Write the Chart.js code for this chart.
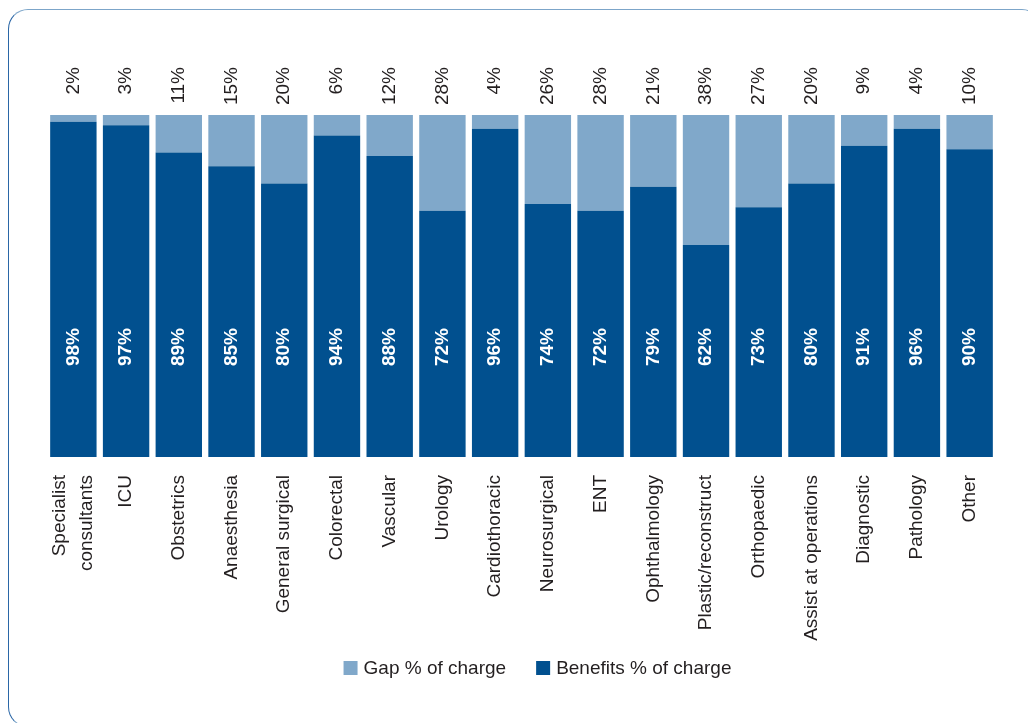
<!DOCTYPE html>
<html>
<head>
<meta charset="utf-8">
<title>Benefits and gap % of charge</title>
<script src="https://cdn.jsdelivr.net/npm/chart.js@4.4.0/dist/chart.umd.min.js"></script>
<style>
  html, body { margin: 0; padding: 0; background: #fff; overflow: hidden; }
  .frame {
    position: absolute; left: 8px; top: 9px; width: 1034px; height: 718px;
    border: 1.5px solid #7ca5c9; border-left-color: #2a66a6;
    border-radius: 20px; box-sizing: border-box;
  }
  .wrap { position: absolute; left: 0; top: 0; width: 1028px; height: 723px; }
</style>
</head>
<body>
<div class="frame"></div>
<div class="wrap"><canvas id="gapChart" width="1028" height="723"></canvas></div>
<script>
const categories = [
  ['Specialist', 'consultants'], 'ICU', 'Obstetrics', 'Anaesthesia', 'General surgical',
  'Colorectal', 'Vascular', 'Urology', 'Cardiothoracic', 'Neurosurgical', 'ENT',
  'Ophthalmology', 'Plastic/reconstruct', 'Orthopaedic', 'Assist at operations',
  'Diagnostic', 'Pathology', 'Other'
];
const benefits = [98, 97, 89, 85, 80, 94, 88, 72, 96, 74, 72, 79, 62, 73, 80, 91, 96, 90];
const gap = [2, 3, 11, 15, 20, 6, 12, 28, 4, 26, 28, 21, 38, 27, 20, 9, 4, 10];

const DARK = '#01508f';
const LIGHT = '#80a8ca';
const TEXT = '#231f20';
const FONT = '"Liberation Sans", Arial, Helvetica, sans-serif';

function drawRotated(ctx, text, x, y, align, font, color) {
  ctx.save();
  ctx.translate(x, y);
  ctx.rotate(-Math.PI / 2);
  ctx.font = font;
  ctx.fillStyle = color;
  ctx.textAlign = align;
  ctx.textBaseline = 'middle';
  ctx.fillText(text, 0, 0);
  ctx.restore();
}

// value labels + category labels, all turned on their side
const barLabels = {
  id: 'barLabels',
  afterDatasetsDraw(chart) {
    const ctx = chart.ctx;
    const xs = chart.scales.x;
    const area = chart.chartArea;
    categories.forEach(function(cat, i) {
      const cx = xs.getPixelForValue(i);
      drawRotated(ctx, gap[i] + '%', cx, area.top - 48, 'right', '19px ' + FONT, TEXT);
      drawRotated(ctx, benefits[i] + '%', cx, area.bottom - 110, 'center', 'bold 19px ' + FONT, '#fff');
      const lines = Array.isArray(cat) ? cat : [cat];
      lines.forEach(function(line, j) {
        const lx = cx + (j - (lines.length - 1) / 2) * 27;
        drawRotated(ctx, line, lx, area.bottom + 18, 'right', '19px ' + FONT, TEXT);
      });
    });
  }
};

// legend drawn by hand so it can sit where the original has it
const bottomLegend = {
  id: 'bottomLegend',
  afterDraw(chart) {
    const ctx = chart.ctx;
    const area = chart.chartArea;
    const items = chart.data.datasets.slice().reverse();
    ctx.save();
    ctx.font = '19px ' + FONT;
    const box = 14, gapText = 6, gapItem = 30;
    let total = 0;
    items.forEach(function(ds, i) {
      total += box + gapText + ctx.measureText(ds.label).width + (i < items.length - 1 ? gapItem : 0);
    });
    let x = (area.left + area.right) / 2 + 16 - total / 2;
    const y = 668;
    items.forEach(function(ds) {
      ctx.fillStyle = ds.backgroundColor;
      ctx.fillRect(x, y - box / 2, box, box);
      x += box + gapText;
      ctx.fillStyle = TEXT;
      ctx.textAlign = 'left';
      ctx.textBaseline = 'middle';
      ctx.fillText(ds.label, x, y + 1);
      x += ctx.measureText(ds.label).width + gapItem;
    });
    ctx.restore();
  }
};

new Chart(document.getElementById('gapChart'), {
  type: 'bar',
  data: {
    labels: categories,
    datasets: [
      {
        label: 'Benefits % of charge',
        data: benefits,
        backgroundColor: DARK,
        barPercentage: 0.88,
        categoryPercentage: 1.0
      },
      {
        label: 'Gap % of charge',
        data: gap,
        backgroundColor: LIGHT,
        barPercentage: 0.88,
        categoryPercentage: 1.0
      }
    ]
  },
  options: {
    responsive: false,
    animation: false,
    devicePixelRatio: 1,
    layout: {
      padding: { top: 115, bottom: 266, left: 47, right: 32 }
    },
    plugins: {
      legend: { display: false },
      tooltip: { enabled: false }
    },
    scales: {
      x: { stacked: true, display: false },
      y: { stacked: true, display: false, min: 0, max: 100 }
    }
  },
  plugins: [barLabels, bottomLegend]
});
</script>
</body>
</html>
